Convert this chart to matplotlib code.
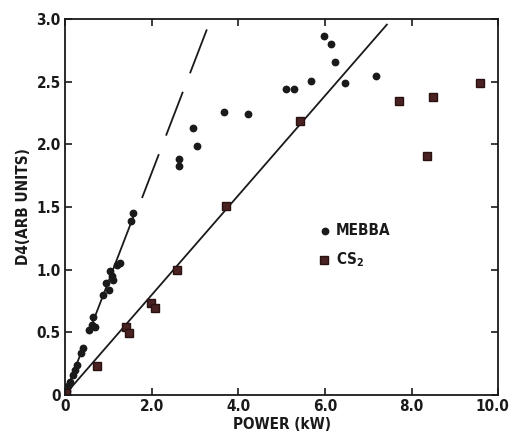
import matplotlib.pyplot as plt
import matplotlib.transforms as mtransforms
import numpy as np

# MEBBA (circles)
mebba_x = [0.04, 0.08, 0.12, 0.18, 0.23, 0.28, 0.38, 0.42, 0.56, 0.62, 0.69, 0.65,
           0.88, 1.02, 0.95, 1.08, 1.12, 1.05, 1.20, 1.27, 1.52, 1.58,
           2.64, 2.64, 2.96, 3.05, 3.67, 4.23, 5.10, 5.28, 5.67, 5.98, 6.14,
           6.24, 6.47, 7.18]
mebba_y = [0.03, 0.07, 0.10, 0.16, 0.20, 0.24, 0.33, 0.37, 0.52, 0.56, 0.54, 0.62,
           0.80, 0.84, 0.89, 0.95, 0.92, 0.99, 1.04, 1.05, 1.39, 1.45,
           1.88, 1.83, 2.13, 1.99, 2.26, 2.24, 2.44, 2.44, 2.51, 2.87, 2.80,
           2.66, 2.49, 2.55]

# CS2 (squares)
cs2_x = [0.02, 0.75, 1.42, 1.49, 1.99, 2.09, 2.58, 3.71, 5.43, 7.71, 8.35, 8.50, 9.57]
cs2_y = [0.01, 0.23, 0.54, 0.49, 0.73, 0.69, 1.00, 1.51, 2.19, 2.35, 1.91, 2.38, 2.49]

# fitted lines
mebba_slope = 0.90
cs2_slope = 0.398

xticks = [0, 2, 4, 6, 8, 10]
xtick_labels = ["0", "2.0", "4.0", "6.0", "8.0", "10.0"]
yticks = [0, 0.5, 1.0, 1.5, 2.0, 2.5, 3.0]
ytick_labels = ["0", "0.5", "1.0", "1.5", "2.0", "2.5", "3.0"]

plt.rcParams["font.family"] = ["DejaVu Sans"]
plt.rcParams["font.stretch"] = "condensed"
plt.rcParams["font.weight"] = "bold"
plt.rcParams["axes.labelweight"] = "bold"

fig = plt.figure(figsize=(5.11, 4.48), dpi=100)
ax = fig.add_axes([0.127, 0.119, 0.848, 0.838])

ink = "#1a1a1a"

# MEBBA fit: solid through the low-power points, dashed extrapolation
for x0, x1 in [(0.0, 0.43), (0.56, 1.6)]:
    xs = np.array([x0, x1])
    ax.plot(xs, mebba_slope * xs, color=ink, lw=1.3)
xs = np.array([1.78, 3.5])
ax.plot(xs, mebba_slope * xs - 0.03, color=ink, lw=1.3, dashes=(26, 11))

# CS2 fit
xs = np.array([0.0, 7.43])
ax.plot(xs, cs2_slope * xs, color=ink, lw=1.3)

ax.plot(mebba_x, mebba_y, "o", color=ink, ms=4.6, ls="none")
ax.plot(cs2_x, cs2_y, "s", mfc="#4a2222", mec="#2a1212", ms=5.5, ls="none")

# in-plot legend
ax.plot([6.0], [1.31], "o", color=ink, ms=4.6)
ax.text(6.25, 1.31, "MEBBA", fontsize=11, va="center", ha="left", color=ink)
ax.plot([5.99], [1.08], "s", mfc="#4a2222", mec="#2a1212", ms=5.5)
ax.text(6.25, 1.08, "CS$_2$", fontsize=11, va="center", ha="left", color=ink)

ax.set_xlim(0, 10)
ax.set_ylim(0, 3.0)
ax.set_xticks(xticks)
ax.set_xticklabels(xtick_labels)
ax.set_yticks(yticks)
ax.set_yticklabels(ytick_labels)
ax.tick_params(direction="in", length=5, width=1.2, top=True, right=True,
               labelsize=11, colors=ink, pad=3)
for s in ax.spines.values():
    s.set_linewidth(1.3)
    s.set_color(ink)

# keep the last x label inside the figure
last = ax.get_xticklabels()[-1]
last.set_transform(last.get_transform() +
                   mtransforms.ScaledTranslation(-6 / 100, 0, fig.dpi_scale_trans))

ax.set_xlabel("POWER (kW)", fontsize=11, color=ink, labelpad=2)
ax.set_ylabel("D4(ARB UNITS)", fontsize=11, color=ink, labelpad=4)

fig.savefig("out.png", dpi=100)
